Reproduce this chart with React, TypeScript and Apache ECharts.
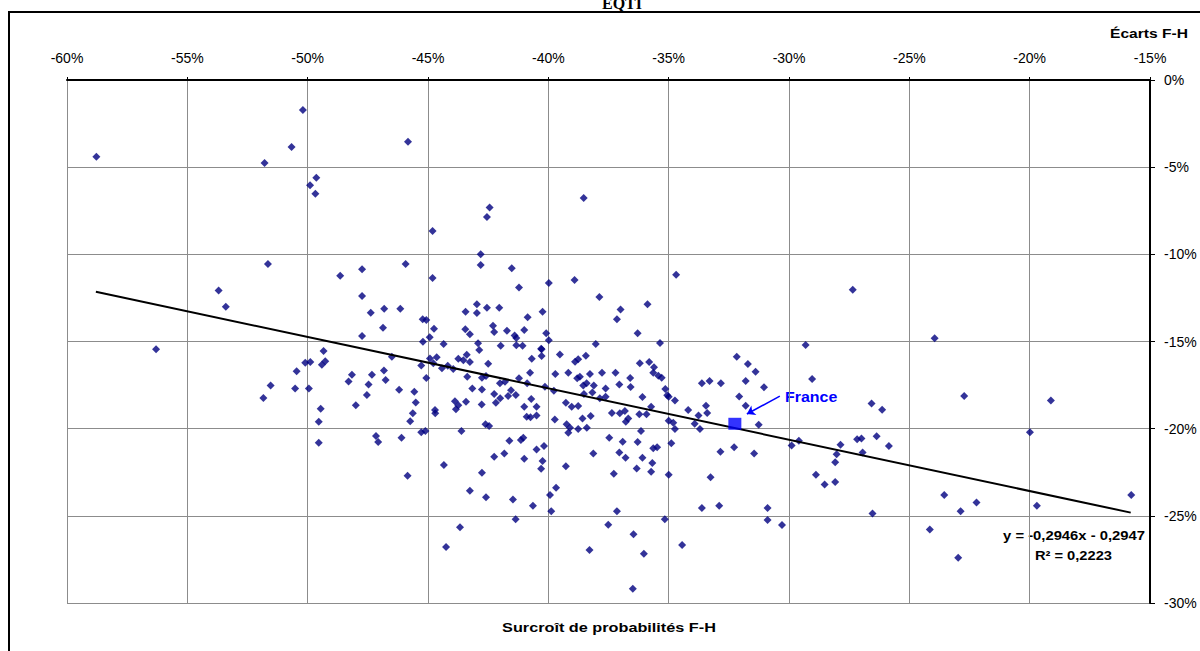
import React, { useEffect, useRef } from "react";
import * as echarts from "echarts";

// Surcroît de probabilités F-H (%), x values
const surcroit: number[] = [
  -58.78, -50.2, -50.67, -51.79, -49.64, -49.9, -49.68, -51.65, -53.7, -53.4,
  -48.65, -56.3, -45.83, -38.53, -42.44, -42.55, -44.81, -42.81, -42.81, -45.93,
  -41.52, -47.74, -44.81, -41.22, -39.98, -38.91, -37.88, -47.74, -47.38, -46.82,
  -46.15, -45.22, -45.07, -46.87, -47.74, -44.75, -44.93, -45.21, -44.35, -43.44,
  -42.97, -42.97, -42.55, -42.04, -40.86, -40.24, -42.3, -42.25, -43.45, -43.26,
  -41.72, -41.4, -41.0, -40.09, -39.98, -42.92, -41.98, -41.33, -41.07, -40.3,
  -38.03, -34.69, -27.35, -37.0, -35.88, -37.15, -36.29, -35.36, -49.34, -50.1,
  -49.89, -49.41, -49.27, -50.46, -51.54, -51.84, -50.52, -49.95, -49.46, -49.54,
  -49.54, -48.16, -48.3, -47.33, -47.47, -47.54, -48.0, -46.83, -46.76, -46.5,
  -46.2, -45.57, -45.51, -45.63, -45.74, -45.28, -45.11, -46.1, -47.16, -47.07,
  -45.28, -45.07, -44.92, -44.64, -44.78, -44.42, -44.18, -44.71, -44.7, -41.33,
  -42.87, -43.74, -43.53, -43.39, -43.26, -43.95, -42.5, -43.37, -42.76, -42.59,
  -43.16, -42.76, -42.01, -41.8, -42.25, -42.18, -42.0, -41.55, -41.67, -41.35,
  -41.22, -40.88, -40.76, -40.69, -40.28, -40.28, -43.88, -43.74, -43.84, -43.42,
  -42.77, -40.71, -41.0, -40.49, -40.9, -40.74, -40.49, -40.14, -39.77, -39.71,
  -39.52, -39.17, -38.89, -38.76, -38.44, -38.8, -38.69, -38.27, -37.77, -37.21,
  -36.6, -36.2, -35.81, -35.61, -35.64, -35.43, -35.29, -38.55, -38.41, -38.11,
  -37.62, -37.05, -36.58, -38.52, -38.17, -37.86, -37.62, -39.27, -39.03, -38.76,
  -38.24, -38.58, -39.73, -39.24, -39.1, -39.17, -38.76, -38.4, -37.36, -37.03,
  -36.82, -36.78, -36.68, -36.22, -35.92, -36.09, -35.73, -35.14, -35.06, -35.0,
  -34.74, -35.0, -34.81, -34.74, -36.15, -37.47, -36.91, -36.29, -35.64, -35.48,
  -34.89, -34.19, -43.61, -42.61, -42.46, -41.62, -41.14, -41.04, -40.18, -40.49,
  -44.34, -42.76, -42.25, -41.83, -41.0, -40.24, -40.3, -39.27, -43.26, -42.59,
  -41.47, -40.64, -39.93, -39.68, -39.88, -41.36, -43.67, -44.25, -38.13, -37.05,
  -36.79, -36.09, -35.68, -36.33, -35.73, -35.0, -37.28, -37.15, -37.51, -36.46,
  -36.03, -38.29, -36.49, -35.16, -34.44, -45.85, -29.31, -23.95, -32.17, -31.71,
  -31.39, -33.62, -33.3, -32.83, -31.8, -31.04, -29.04, -32.07, -31.8, -33.45,
  -33.76, -33.4, -33.92, -33.7, -31.26, -32.85, -32.28, -31.45, -33.26, -33.62,
  -32.9, -30.89, -30.89, -29.89, -29.59, -28.88, -28.52, -28.08, -28.08, -28.02,
  -27.86, -27.17, -26.99, -26.94, -26.57, -26.13, -26.36, -25.85, -26.53, -30.29,
  -22.72, -19.12, -19.99, -23.55, -22.21, -22.87, -19.7, -15.78, -22.97, -24.15,
];

// Écarts F-H (%), y values
const ecarts: number[] = [
  -4.4, -1.72, -3.84, -4.76, -5.6, -6.04, -6.52, -10.56, -12.07, -13.0,
  -11.23, -15.45, -3.54, -6.77, -7.32, -7.86, -8.66, -10.0, -10.61, -10.56,
  -10.8, -10.86, -11.36, -11.9, -11.65, -11.47, -12.45, -12.39, -13.35, -13.12,
  -13.12, -13.73, -13.77, -14.21, -14.69, -14.27, -14.76, -15.01, -15.15, -13.29,
  -12.87, -13.37, -13.06, -13.06, -13.61, -13.29, -14.1, -14.46, -14.3, -14.59,
  -14.38, -14.65, -14.34, -14.53, -14.93, -15.1, -15.24, -15.22, -15.24, -15.41,
  -15.15, -11.17, -12.03, -13.16, -12.87, -13.73, -14.52, -15.09, -15.55, -16.22,
  -16.18, -16.33, -16.14, -16.71, -17.52, -18.24, -17.69, -17.69, -18.86, -19.6,
  -20.81, -16.91, -17.29, -16.91, -17.46, -18.07, -18.66, -16.66, -17.21, -15.87,
  -17.77, -17.88, -18.5, -19.12, -19.58, -20.2, -20.14, -20.52, -20.42, -20.77,
  -16.37, -17.1, -15.98, -15.91, -16.25, -16.54, -16.39, -18.93, -19.12, -14.8,
  -15.49, -15.99, -16.08, -15.76, -16.18, -16.58, -16.28, -17.02, -17.08, -16.98,
  -17.69, -17.75, -17.4, -17.31, -18.01, -18.51, -18.26, -17.79, -18.13, -18.07,
  -17.11, -17.4, -16.79, -15.99, -15.45, -15.83, -18.43, -18.65, -18.88, -18.45,
  -18.61, -18.3, -18.74, -18.74, -19.31, -19.35, -19.24, -17.59, -17.83, -16.87,
  -15.74, -16.79, -16.16, -16.02, -15.82, -17.11, -17.02, -16.87, -16.79, -16.79,
  -17.1, -16.25, -16.18, -16.48, -16.79, -16.97, -17.08, -17.52, -17.4, -17.52,
  -17.69, -17.46, -17.61, -18.01, -17.93, -18.26, -18.17, -18.51, -18.74, -18.7,
  -19.28, -19.41, -19.47, -19.75, -19.95, -20.23, -20.02, -19.95, -19.1, -19.12,
  -18.99, -19.6, -19.41, -19.18, -19.18, -18.19, -18.74, -17.73, -18.09, -18.17,
  -18.38, -19.54, -19.66, -20.02, -20.14, -20.52, -20.75, -20.77, -21.13, -21.07,
  -20.84, -18.93, -20.14, -19.75, -19.85, -20.69, -20.65, -20.52, -20.99, -21.19,
  -22.09, -22.53, -21.61, -21.42, -21.73, -21.86, -22.3, -22.16, -23.56, -23.94,
  -24.06, -24.42, -23.81, -23.39, -24.73, -25.2, -25.65, -26.79, -21.42, -21.36,
  -21.67, -21.67, -21.97, -22.28, -22.47, -22.64, -22.59, -24.73, -25.51, -26.06,
  -27.18, -26.96, -29.18, -25.2, -26.68, -22.7, -15.2, -14.82, -15.87, -16.29,
  -16.73, -17.4, -17.27, -17.4, -17.27, -17.63, -17.15, -18.15, -18.69, -18.69,
  -19.24, -19.1, -19.72, -20.02, -19.77, -21.32, -21.06, -21.42, -22.78, -24.55,
  -24.42, -24.55, -25.24, -20.96, -20.69, -22.64, -23.2, -23.06, -21.93, -21.47,
  -20.92, -20.61, -20.56, -21.36, -18.55, -18.92, -20.44, -21.0, -24.86, -25.53,
  -18.13, -18.38, -20.21, -23.81, -24.23, -24.73, -24.42, -23.81, -27.4, -25.78,
];

const francePoint: number[] = [-32.25, -19.72];
const franceArrowFrom: number[] = [-30.38, -18.13];
const franceArrowTo: number[] = [-31.75, -19.16];

const trendSlope = -0.2946;
const trendIntercept = -0.2947;
const trendXRange: number[] = [-58.8, -15.8];

const xMin = -60;
const xMax = -15;
const yMin = -30;
const yMax = 0;
const tickStep = 5;

const FONT = "'Liberation Sans', Arial, sans-serif";

export default function App() {
  const ref = useRef<HTMLDivElement>(null);

  useEffect(() => {
    if (!ref.current) return;
    const chart = echarts.init(ref.current, undefined, { renderer: "svg" });

    const points = surcroit.map((x, i) => [x, ecarts[i]]);
    const trend = trendXRange.map((x) => [x, trendSlope * x + trendIntercept * 100]);

    chart.setOption({
      animation: false,
      backgroundColor: "#ffffff",
      grid: { left: 67, right: 50, top: 80, bottom: 48, containLabel: false },
      xAxis: {
        type: "value",
        position: "top",
        min: xMin,
        max: xMax,
        interval: tickStep,
        axisLine: { onZero: false, lineStyle: { color: "#000", width: 2 } },
        axisTick: { show: true, length: 3, lineStyle: { color: "#000" } },
        axisLabel: {
          formatter: (v: number) => `${v}%`,
          color: "#000",
          fontFamily: FONT,
          fontSize: 14,
          margin: 15,
        },
        splitLine: { show: true, lineStyle: { color: "#8c8c8c", width: 1 } },
      },
      yAxis: {
        type: "value",
        position: "right",
        min: yMin,
        max: yMax,
        interval: tickStep,
        axisLine: { show: true, onZero: false, lineStyle: { color: "#000", width: 2 } },
        axisTick: { show: true, length: 5, lineStyle: { color: "#000" } },
        axisLabel: {
          formatter: (v: number) => `${v}%`,
          color: "#000",
          fontFamily: FONT,
          fontSize: 14,
          margin: 14,
        },
        splitLine: { show: true, lineStyle: { color: "#8c8c8c", width: 1 } },
      },
      series: [
        {
          type: "line",
          data: trend,
          showSymbol: false,
          symbol: "none",
          lineStyle: { color: "#000", width: 2 },
          z: 3,
          silent: true,
        },
        {
          type: "scatter",
          data: points,
          symbol: "diamond",
          symbolSize: 8,
          itemStyle: { color: "#000080" },
          z: 2,
        },
        {
          type: "scatter",
          data: [francePoint],
          symbol: "rect",
          symbolSize: [13, 12],
          itemStyle: { color: "#0000ff" },
          z: 4,
          markLine: {
            silent: true,
            symbol: ["none", "arrow"],
            symbolSize: 8,
            label: { show: false },
            lineStyle: { color: "#0000ff", width: 1.5, type: "solid" },
            data: [[{ coord: franceArrowFrom }, { coord: franceArrowTo }]],
          },
        },
      ],
      graphic: [
        {
          type: "rect",
          shape: { x: 9, y: 12, width: 1400, height: 900 },
          style: { fill: "none", stroke: "#000", lineWidth: 2 },
          silent: true,
          z: -1,
        },
        {
          type: "text",
          x: 622,
          y: 3,
          style: {
            text: "EQTI",
            fontFamily: "'Liberation Serif', 'Times New Roman', serif",
            fontWeight: "bold",
            fontSize: 16,
            fill: "#000",
            align: "center",
            verticalAlign: "middle",
          },
        },
        {
          type: "text",
          x: 1188,
          y: 33,
          scaleX: 1.2,
          style: {
            text: "Écarts F-H",
            fontFamily: FONT,
            fontWeight: "bold",
            fontSize: 13,
            fill: "#000",
            align: "right",
            verticalAlign: "middle",
          },
        },
        {
          type: "text",
          x: 609,
          y: 628,
          scaleX: 1.25,
          style: {
            text: "Surcroît de probabilités F-H",
            fontFamily: FONT,
            fontWeight: "bold",
            fontSize: 13,
            fill: "#000",
            align: "center",
            verticalAlign: "middle",
          },
        },
        {
          type: "text",
          x: 1145,
          y: 535,
          scaleX: 1.14,
          style: {
            text: "y = -0,2946x - 0,2947",
            fontFamily: FONT,
            fontWeight: "bold",
            fontSize: 13,
            fill: "#000",
            align: "right",
            verticalAlign: "middle",
          },
        },
        {
          type: "text",
          x: 1112,
          y: 555,
          scaleX: 1.13,
          style: {
            text: "R² = 0,2223",
            fontFamily: FONT,
            fontWeight: "bold",
            fontSize: 13,
            fill: "#000",
            align: "right",
            verticalAlign: "middle",
          },
        },
        {
          type: "text",
          x: 785,
          y: 397,
          scaleX: 1.14,
          style: {
            text: "France",
            fontFamily: FONT,
            fontWeight: "bold",
            fontSize: 14,
            fill: "#0000ff",
            align: "left",
            verticalAlign: "middle",
          },
        },
      ],
    });

    return () => chart.dispose();
  }, []);

  return (
    <div
      ref={ref}
      style={{ position: "absolute", left: 0, top: 0, width: 1200, height: 651, background: "#fff" }}
    />
  );
}
